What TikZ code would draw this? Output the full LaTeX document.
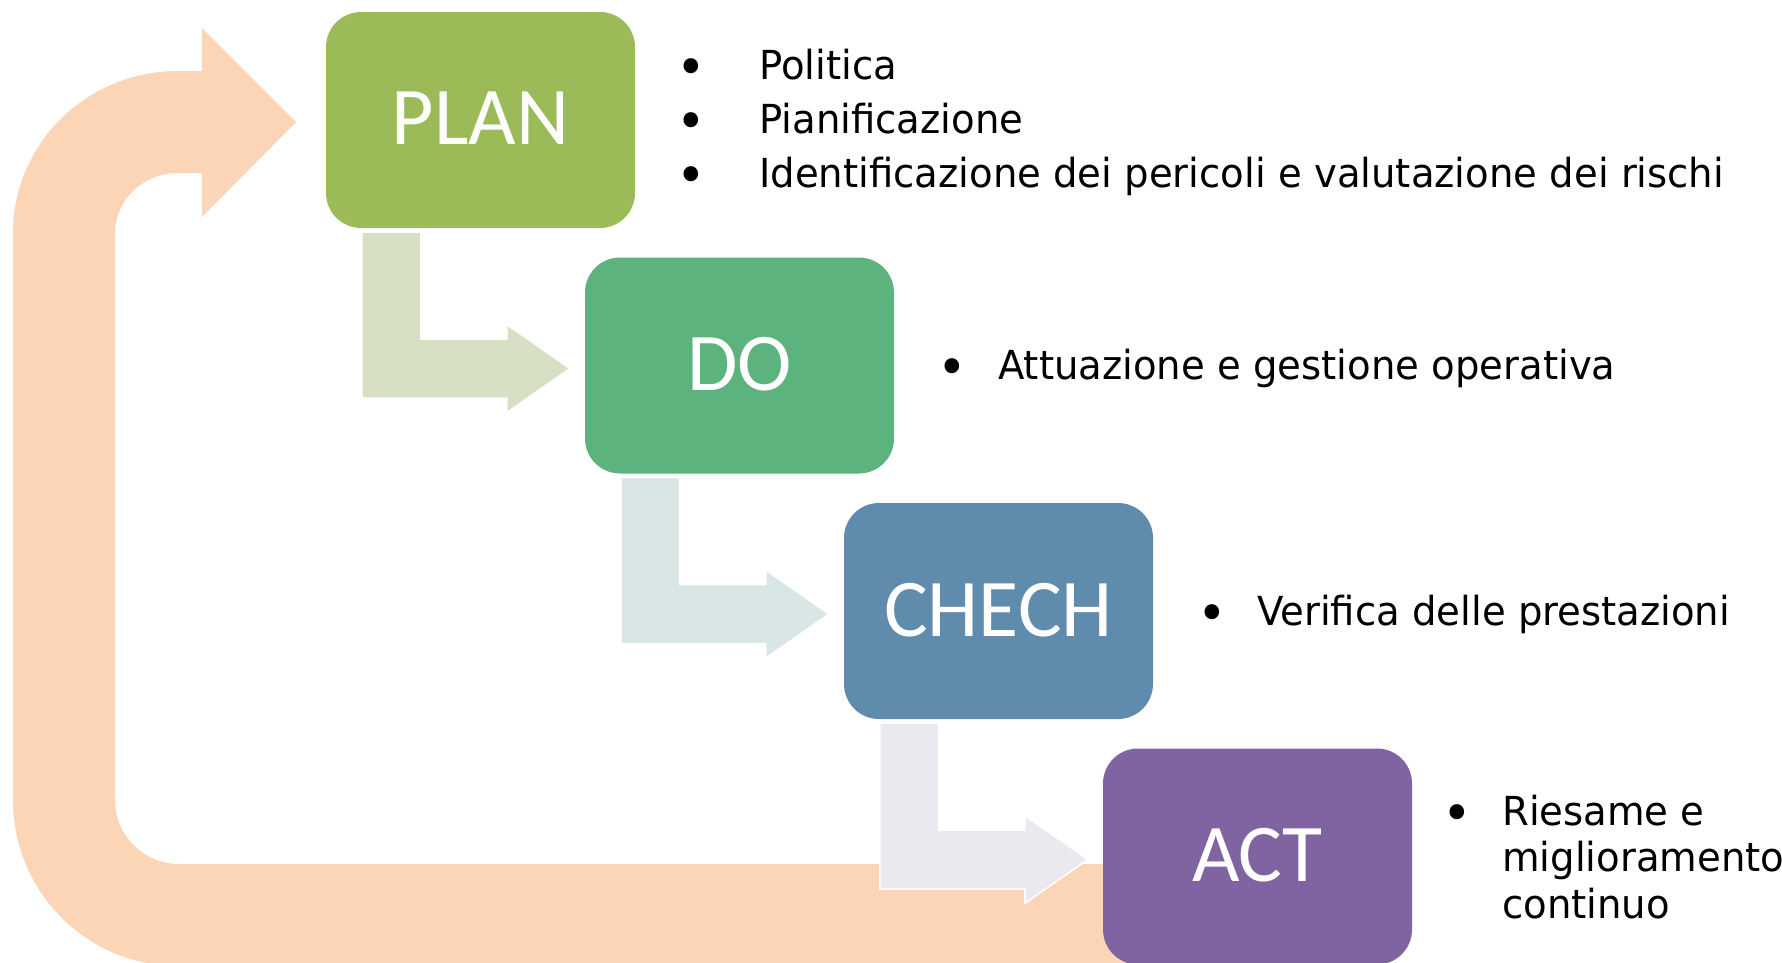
\documentclass[tikz,border=0pt]{standalone}
\usepackage{fontspec}
\newfontfamily\bodyfont{DejaVu Sans}[FakeStretch=0.965]
\newfontfamily\labelfont{Carlito}
\usetikzlibrary{calc}
\definecolor{plancol}{HTML}{9BBB59}
\definecolor{docol}{HTML}{5DB37E}
\definecolor{checkcol}{HTML}{5F8BAD}
\definecolor{actcol}{HTML}{8064A2}
\definecolor{loopcol}{HTML}{FBD5B5}
\definecolor{arrowA}{HTML}{D6E0C5}
\definecolor{arrowB}{HTML}{D8E6E5}
\definecolor{arrowC}{HTML}{EBE9EF}
\tikzset{
  phase/.style={rectangle, rounded corners=35pt, minimum width=309pt, minimum height=216pt,
    inner sep=0pt, text=white, font=\labelfont\fontsize{82}{82}\selectfont},
  item/.style={anchor=base west, inner sep=0pt, font=\bodyfont\fontsize{40}{46.5}\selectfont},
  dot/.style={anchor=base, inner sep=0pt, font=\bodyfont\fontsize{40}{46.5}\selectfont},
  stepconn/.style={draw=white, line width=1.5pt},
  loopband/.style={fill=loopcol},
}
\newcommand\bentconn[3]{%
  \filldraw[stepconn, fill=#3] let \p1=(#1.south west), \p2=(#2.west) in
    ({\x1+36pt},{\y1-4pt}) -- ({\x1+95pt},{\y1-4pt})
    -- ({\x1+95pt},{\y2-3pt+29.5pt}) -- ({\x2-78pt},{\y2-3pt+29.5pt})
    -- ({\x2-78pt},{\y2-3pt+44pt}) -- ({\x2-15pt},{\y2-3pt})
    -- ({\x2-78pt},{\y2-3pt-44pt}) -- ({\x2-78pt},{\y2-3pt-29.5pt})
    -- ({\x1+36pt},{\y2-3pt-29.5pt}) -- cycle;}
\newcommand\bul{\raisebox{-6pt}{\scalebox{1.3}{•}}}
\begin{document}
\begin{tikzpicture}[x=1pt,y=-1pt]
\useasboundingbox (0,0) rectangle (1782,962);
\clip (0,0) rectangle (1782,962);
\fill[white] (0,0) rectangle (1782,962);
% feedback loop band (ACT back to PLAN)
\fill[loopband]
  (1250,966) -- (178,966)
  .. controls (86.9,966) and (13,891.7) .. (13,800)
  -- (13,233)
  .. controls (13,143.5) and (86.9,71) .. (178,71)
  -- (202,71) -- (202,28) -- (296,122) -- (202,217) -- (202,173) -- (178,173)
  .. controls (143.2,173) and (115,199.9) .. (115,233)
  -- (115,800)
  .. controls (115,835.3) and (143.7,864) .. (179,864)
  -- (1250,864) -- cycle;
% phase boxes
\node[phase, fill=plancol]  (plan)  at (480.5,120)   {\raisebox{3pt}{PLAN}};
\node[phase, fill=docol]    (do)    at (739.5,365.5) {\raisebox{3pt}{DO}};
\node[phase, fill=checkcol] (check) at (998.5,611)   {\raisebox{3pt}{CHECH}};
\node[phase, fill=actcol]   (act)   at (1257.5,856.5){\raisebox{3pt}{ACT}};
% bent connectors
\bentconn{plan}{do}{arrowA}
\bentconn{do}{check}{arrowB}
\bentconn{check}{act}{arrowC}
% lists
\node[dot]  (pb1) at (691,79)  {\bul};
\node[item] (pt1) at (759,79)  {Politica};
\node[dot]  (pb2) at (691,133) {\bul};
\node[item] (pt2) at (759,133) {Pianificazione};
\node[dot]  (pb3) at (691,187) {\bul};
\node[item] (pt3) at (759,187) {Identificazione dei pericoli e valutazione dei rischi};
\node[dot]  (db1) at (952,379) {\bul};
\node[item] (dt1) at (998,379) {Attuazione e gestione operativa};
\node[dot]  (cb1) at (1212,625) {\bul};
\node[item] (ct1) at (1257,625) {Verifica delle prestazioni};
\node[dot]  (ab1) at (1457,825) {\bul};
\node[item] (at1) at (1502,825) {Riesame e};
\node[item] (at2) at (1502,871.5) {miglioramento};
\node[item] (at3) at (1502,918) {continuo};
\end{tikzpicture}
\end{document}
